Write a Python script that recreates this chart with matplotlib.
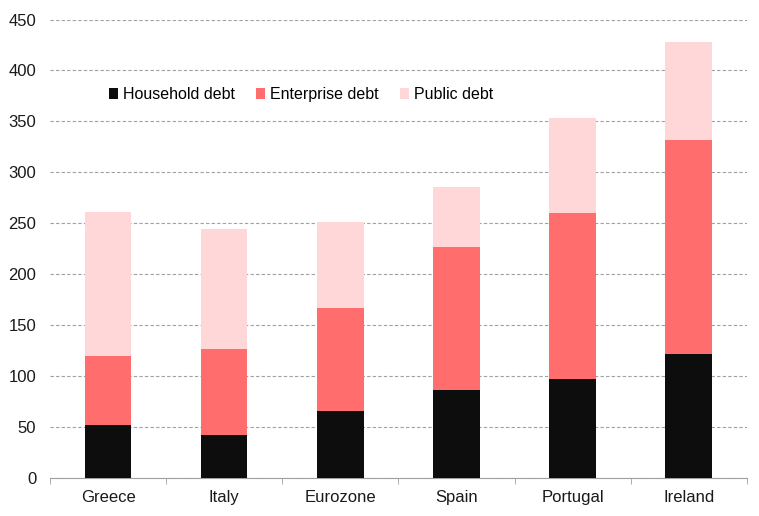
import matplotlib
matplotlib.use("Agg")
import matplotlib.pyplot as plt
import numpy as np

categories = ["Greece", "Italy", "Eurozone", "Spain", "Portugal", "Ireland"]
household = [52, 42, 65, 86, 97, 121]
enterprise = [67, 84, 102, 140, 163, 211]
public = [142, 118, 84, 59, 93, 96]

plt.rcParams['font.family'] = ['Liberation Sans', 'DejaVu Sans']

fig = plt.figure(figsize=(7.59, 5.16), dpi=100)
ax = fig.add_axes([0.0659, 0.0746, 0.918, 0.8876])

x = np.arange(len(categories))
w = 0.4
h = np.array(household)
e = np.array(enterprise)
p = np.array(public)
ax.bar(x, h, w, color="#0d0d0d", label="Household debt", zorder=3)
ax.bar(x, e, w, bottom=h, color="#ff6d6d", label="Enterprise debt", zorder=3)
ax.bar(x, p, w, bottom=h + e, color="#ffd7d9", label="Public debt", zorder=3)

ax.set_ylim(0, 450)
ax.set_xlim(-0.5, len(categories) - 0.5)
ax.set_yticks(np.arange(0, 451, 50))
ax.yaxis.grid(True, linestyle=(0, (3, 2)), color="#a0a0a0", linewidth=0.8, zorder=0)
ax.set_axisbelow(True)
for s in ["left", "right", "top"]:
    ax.spines[s].set_visible(False)
ax.spines["bottom"].set_color("#a0a0a0")
ax.tick_params(axis="y", length=0, labelsize=12, pad=10, colors="#1a1a1a")
ax.set_xticks(x)
ax.set_xticklabels(categories)
ax.tick_params(axis="x", length=0, labelsize=12, pad=9, colors="#1a1a1a")
ax.set_xticks(np.arange(-0.5, len(categories)), minor=True)
ax.tick_params(axis="x", which="minor", length=4, color="#a0a0a0", direction="out")

ax.legend(loc="center left", bbox_to_anchor=(0.075, 0.836), ncol=3, frameon=False,
          fontsize=11.5, handlelength=0.6, handleheight=0.6, handletextpad=0.3,
          columnspacing=1.3, borderaxespad=0)

fig.savefig("out.png", dpi=100)
